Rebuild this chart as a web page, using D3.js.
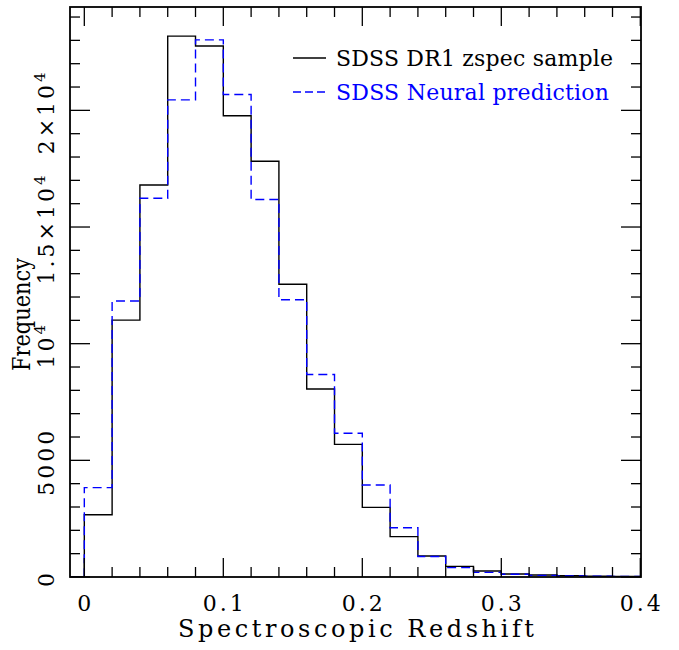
<!DOCTYPE html>
<html><head><meta charset="utf-8">
<script src="https://cdn.jsdelivr.net/npm/d3@7"></script>
<style>body{margin:0;background:#fff}svg{display:block}</style>
</head><body>
<script>
const binStarts = [0,0.02,0.04,0.06,0.08,0.10,0.12,0.14,0.16,0.18,0.20,0.22,0.24,0.26,0.28,0.30,0.32,0.34,0.36,0.38];
const binWidth = 0.02;
const zspecCounts = [2670,11010,16800,23180,22760,19770,17820,12550,8055,5685,2985,1730,900,457,257,128,85,57,35,20];
const neuralCounts = [3830,11830,16230,20450,23020,20680,16180,11880,8680,6160,3940,2110,880,400,200,115,70,43,30,20];
const xMajor = [0,0.1,0.2,0.3,0.4];
const xMajorLabels = ["0","0.1","0.2","0.3","0.4"];
const yMajor = [0,5000,10000,15000,20000];
const seriesNames = ["SDSS DR1 zspec sample","SDSS Neural prediction"];

const W=679,H=650;
const L=70,R=641,T=7,B=577;
const x=d3.scaleLinear().domain([-0.0103,0.4005]).range([L,R]);
const y=d3.scaleLinear().domain([0,24430]).range([B,T]);
const svg=d3.select("body").append("svg").attr("width",W).attr("height",H);
const font="DejaVu Serif";

svg.append("clipPath").attr("id","c").append("rect").attr("x",L).attr("y",T).attr("width",R-L).attr("height",B-T);

function stepPath(vals){
  const pts=[[x.domain()[0],0],[binStarts[0],0]];
  vals.forEach((v,i)=>{pts.push([binStarts[i],v]);pts.push([binStarts[i]+binWidth,v]);});
  pts.push([binStarts[binStarts.length-1]+binWidth,0]);
  return d3.line().x(d=>x(d[0])).y(d=>y(d[1]))(pts);
}
const g=svg.append("g").attr("clip-path","url(#c)");
g.append("path").attr("d",stepPath(zspecCounts)).attr("fill","none").attr("stroke","#000").attr("stroke-width",1.4);
g.append("path").attr("d",stepPath(neuralCounts)).attr("fill","none").attr("stroke","#0000ff").attr("stroke-width",1.4).attr("stroke-dasharray","9,5");

// ticks
const tk=svg.append("g").attr("stroke","#000").attr("stroke-width",1.3);
const xMinor=d3.range(0,0.4001,0.02);
xMinor.forEach(v=>{
  const major=xMajor.some(m=>Math.abs(m-v)<1e-6);
  const len=major?19:10;
  tk.append("line").attr("x1",x(v)).attr("x2",x(v)).attr("y1",B).attr("y2",B-len);
  tk.append("line").attr("x1",x(v)).attr("x2",x(v)).attr("y1",T).attr("y2",T+len);
});
const yMinor=d3.range(0,24001,1000);
yMinor.forEach(v=>{
  const major=yMajor.includes(v);
  const len=major?20:10;
  tk.append("line").attr("y1",y(v)).attr("y2",y(v)).attr("x1",L).attr("x2",L+len);
  tk.append("line").attr("y1",y(v)).attr("y2",y(v)).attr("x1",R).attr("x2",R-len);
});
svg.append("rect").attr("x",L).attr("y",T).attr("width",R-L).attr("height",B-T).attr("fill","none").attr("stroke","#000").attr("stroke-width",1.8);

// x tick labels
xMajor.forEach((v,i)=>{
  svg.append("text").attr("x",x(v)+1.5).attr("y",611).attr("text-anchor","middle")
    .attr("font-family",font).attr("font-size",22).style("letter-spacing","3px").text(xMajorLabels[i]);
});
// y tick labels
function yLabel(v,parts){
  const t=svg.append("text").attr("transform",`translate(54,${y(v)+1.5}) rotate(-90)`).attr("text-anchor","middle")
    .attr("font-family",font).attr("font-size",22).style("letter-spacing","3px");
  parts.forEach(p=>{
    const s=t.append("tspan").text(p.t);
    if(p.sup) s.attr("font-size",15).attr("dy",-9);
  });
}
yLabel(0,[{t:"0"}]);
yLabel(5000,[{t:"5000"}]);
yLabel(10000,[{t:"10"},{t:"4",sup:true}]);
yLabel(15000,[{t:"1.5×10"},{t:"4",sup:true}]);
yLabel(20000,[{t:"2×10"},{t:"4",sup:true}]);

// axis titles
svg.append("text").attr("x",178).attr("y",637).attr("font-family",font).attr("font-size",24)
  .attr("textLength",356).attr("lengthAdjust","spacing").text("Spectroscopic Redshift");
svg.append("text").attr("transform","translate(30,371) rotate(-90)").attr("font-family",font).attr("font-size",24)
  .attr("textLength",113).attr("lengthAdjust","spacingAndGlyphs").text("Frequency");

// legend
svg.append("line").attr("x1",293).attr("x2",326).attr("y1",58).attr("y2",58).attr("stroke","#000").attr("stroke-width",1.3);
svg.append("text").attr("x",336).attr("y",66).attr("font-family",font).attr("font-size",22)
  .attr("textLength",277).attr("lengthAdjust","spacing").attr("fill","#000").text(seriesNames[0]);
svg.append("line").attr("x1",293).attr("x2",326).attr("y1",92).attr("y2",92).attr("stroke","#0000ff").attr("stroke-width",1.3).attr("stroke-dasharray","8,4");
svg.append("text").attr("x",336).attr("y",100).attr("font-family",font).attr("font-size",22)
  .attr("textLength",273).attr("lengthAdjust","spacing").attr("fill","#0000ff").text(seriesNames[1]);
</script>
</body></html>
